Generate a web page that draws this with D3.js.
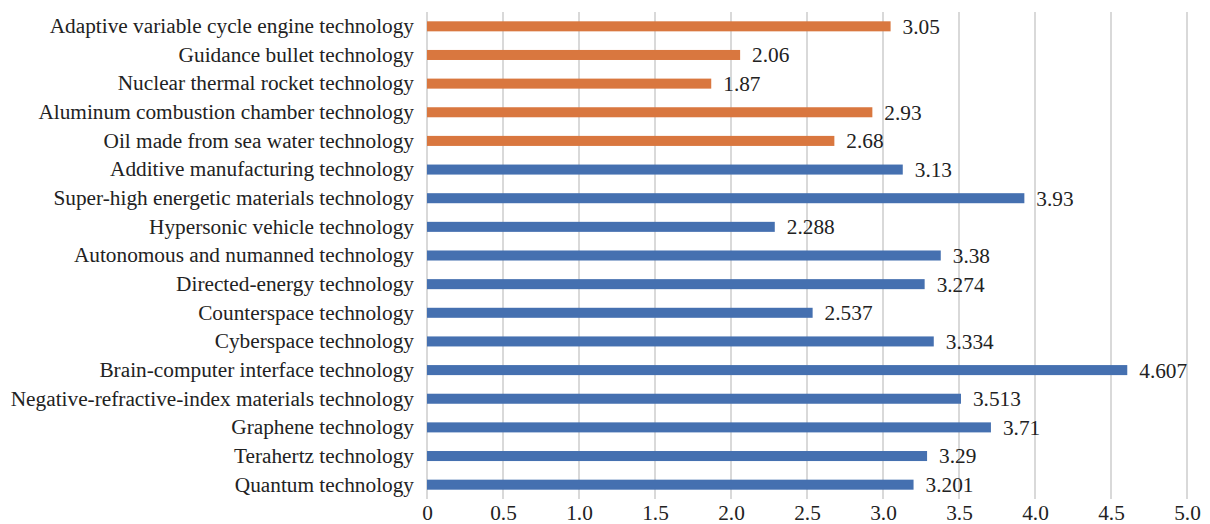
<!DOCTYPE html>
<html>
<head>
<meta charset="utf-8">
<script src="https://cdn.jsdelivr.net/npm/d3@7"></script>
<style>
  html, body { margin: 0; padding: 0; background: #fff; }
  svg text { font-family: "Liberation Serif", "Times New Roman", serif; fill: #222; }
</style>
</head>
<body>
<svg id="chart" width="1210" height="524"></svg>
<script>
const categories = [
  "Adaptive variable cycle engine technology",
  "Guidance bullet technology",
  "Nuclear thermal rocket technology",
  "Aluminum combustion chamber technology",
  "Oil made from sea water technology",
  "Additive manufacturing technology",
  "Super-high energetic materials technology",
  "Hypersonic vehicle technology",
  "Autonomous and numanned technology",
  "Directed-energy technology",
  "Counterspace technology",
  "Cyberspace technology",
  "Brain-computer interface technology",
  "Negative-refractive-index materials technology",
  "Graphene technology",
  "Terahertz technology",
  "Quantum technology"
];
const values = [3.05, 2.06, 1.87, 2.93, 2.68, 3.13, 3.93, 2.288, 3.38, 3.274, 2.537, 3.334, 4.607, 3.513, 3.71, 3.29, 3.201];
const valueLabels = ["3.05", "2.06", "1.87", "2.93", "2.68", "3.13", "3.93", "2.288", "3.38", "3.274", "2.537", "3.334", "4.607", "3.513", "3.71", "3.29", "3.201"];
const groups = ["A","A","A","A","A","B","B","B","B","B","B","B","B","B","B","B","B"];
const tickValues = [0, 0.5, 1, 1.5, 2, 2.5, 3, 3.5, 4, 4.5, 5];
const tickLabels = ["0", "0.5", "1.0", "1.5", "2.0", "2.5", "3.0", "3.5", "4.0", "4.5", "5.0"];

(function () {
const colors = { A: "#D9773F", B: "#4570B0" };
const svg = d3.select("#chart");
const mLeft = 427, mRight = 1187, mTop = 12, mBottom = 499;
const fs = 21.3;

const x = d3.scaleLinear().domain([0, 5]).range([mLeft, mRight]);
const y = d3.scaleBand().domain(categories).range([mTop, mBottom]).paddingInner(0.65).paddingOuter(0.325);

svg.append("g").selectAll("line").data(tickValues).join("line")
  .attr("x1", d => x(d)).attr("x2", d => x(d))
  .attr("y1", mTop).attr("y2", mBottom)
  .attr("stroke", "#d9d9d9").attr("stroke-width", 2);

svg.append("g").selectAll("rect").data(categories).join("rect")
  .attr("x", x(0))
  .attr("y", d => y(d))
  .attr("width", (d, i) => x(values[i]) - x(0))
  .attr("height", y.bandwidth())
  .attr("fill", (d, i) => colors[groups[i]]);

svg.append("g").selectAll("text").data(categories).join("text")
  .attr("x", (d, i) => x(values[i]) + 12)
  .attr("y", d => y(d) + y.bandwidth() / 2)
  .attr("dy", "0.35em")
  .attr("font-size", fs)
  .text((d, i) => valueLabels[i]);

const yAxis = d3.axisLeft(y).tickSize(0).tickPadding(13);
const gy = svg.append("g").attr("transform", `translate(${mLeft},0)`).call(yAxis);
gy.select(".domain").remove();
gy.selectAll("text").attr("font-size", fs).attr("font-family", "Liberation Serif").attr("fill", "#222");

const xAxis = d3.axisBottom(x).tickValues(tickValues).tickFormat((d, i) => tickLabels[i]).tickSize(0).tickPadding(6);
const gx = svg.append("g").attr("transform", `translate(0,${mBottom})`).call(xAxis);
gx.select(".domain").remove();
gx.selectAll("text").attr("font-size", fs).attr("font-family", "Liberation Serif").attr("fill", "#222");
})();
</script>
</body>
</html>
